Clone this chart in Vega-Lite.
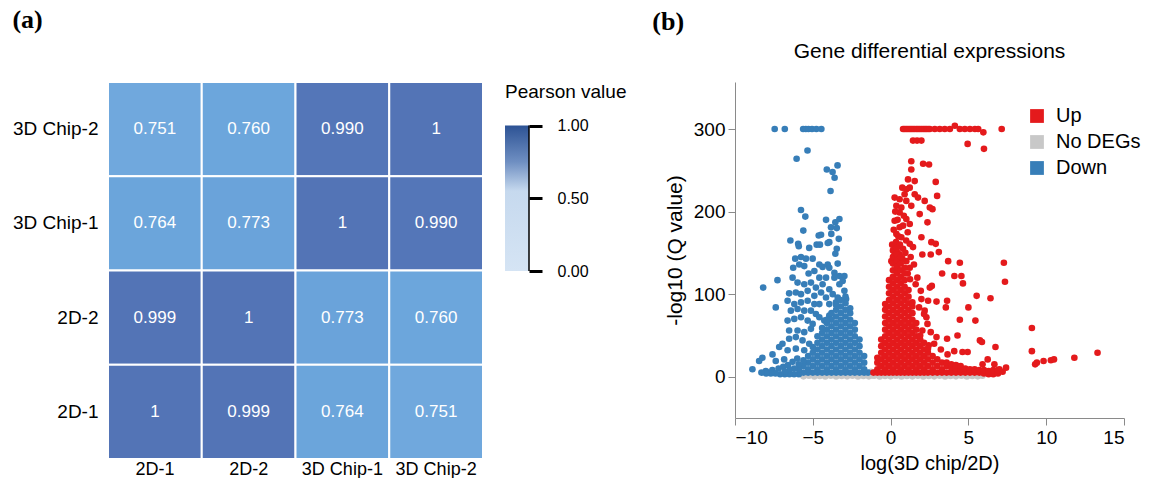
{
"$schema": "https://vega.github.io/schema/vega-lite/v6.json",
"background": "white",
"padding": {"left": 12, "top": 7, "right": 0, "bottom": 0},
"spacing": 25,
"config": {
  "font": "Liberation Sans",
  "view": {"stroke": null},
  "axis": {"grid": false, "labelColor": "black", "titleColor": "black", "labelFont": "Liberation Sans", "titleFont": "Liberation Sans", "titleFontWeight": "normal"},
  "title": {"color": "black", "font": "Liberation Sans", "fontWeight": "normal"}
},
"datasets": {
"heat": [
{"col":"2D-1","row":"3D Chip-2","v":0.751,"lab":"0.751"},
{"col":"2D-2","row":"3D Chip-2","v":0.760,"lab":"0.760"},
{"col":"3D Chip-1","row":"3D Chip-2","v":0.990,"lab":"0.990"},
{"col":"3D Chip-2","row":"3D Chip-2","v":1,"lab":"1"},
{"col":"2D-1","row":"3D Chip-1","v":0.764,"lab":"0.764"},
{"col":"2D-2","row":"3D Chip-1","v":0.773,"lab":"0.773"},
{"col":"3D Chip-1","row":"3D Chip-1","v":1,"lab":"1"},
{"col":"3D Chip-2","row":"3D Chip-1","v":0.990,"lab":"0.990"},
{"col":"2D-1","row":"2D-2","v":0.999,"lab":"0.999"},
{"col":"2D-2","row":"2D-2","v":1,"lab":"1"},
{"col":"3D Chip-1","row":"2D-2","v":0.773,"lab":"0.773"},
{"col":"3D Chip-2","row":"2D-2","v":0.760,"lab":"0.760"},
{"col":"2D-1","row":"2D-1","v":1,"lab":"1"},
{"col":"2D-2","row":"2D-1","v":0.999,"lab":"0.999"},
{"col":"3D Chip-1","row":"2D-1","v":0.764,"lab":"0.764"},
{"col":"3D Chip-2","row":"2D-1","v":0.751,"lab":"0.751"}
],
"gray": [
{"x":-5.6,"y":0.5},{"x":-5.25,"y":1.2},{"x":-4.9,"y":0.3},{"x":-4.55,"y":1.0},{"x":-4.2,"y":0.4},{"x":-3.85,"y":1.2},{"x":-3.5,"y":0.3},{"x":-3.15,"y":1.0},{"x":-2.8,"y":0.5},{"x":-2.45,"y":1.2},{"x":-2.1,"y":0.3},{"x":-1.75,"y":1.0},{"x":-1.4,"y":0.5},{"x":-1.05,"y":1.2},{"x":-0.7,"y":0.3},{"x":-0.35,"y":1.0},{"x":0,"y":0.5},{"x":0.35,"y":1.2},{"x":0.7,"y":0.3},{"x":1.05,"y":1.0},{"x":1.4,"y":0.5},{"x":1.75,"y":1.2},{"x":2.1,"y":0.3},{"x":2.45,"y":1.0},{"x":2.8,"y":0.5},{"x":3.15,"y":1.2},{"x":3.5,"y":0.3},{"x":3.85,"y":1.0},{"x":4.2,"y":0.5},{"x":4.55,"y":1.2},{"x":4.9,"y":0.3},{"x":5.25,"y":1.0},{"x":5.6,"y":0.5},{"x":5.9,"y":1.2},{"x":-1.3,"y":3},{"x":-1.25,"y":6},{"x":-1.2,"y":1.5}
],
"down": [
{"x":-7.45,"y":300},{"x":-6.8,"y":300},{"x":-5.62,"y":300},{"x":-5.45,"y":300},{"x":-5.28,"y":300},{"x":-5.05,"y":300},{"x":-4.77,"y":300},{"x":-4.45,"y":300},
{"x":-6.04,"y":264},{"x":-5.34,"y":274},{"x":-4.1,"y":251},{"x":-3.73,"y":248},{"x":-3.41,"y":256},{"x":-3.6,"y":241},{"x":-3.86,"y":225},
{"x":-5.76,"y":202},{"x":-5.48,"y":194},{"x":-5.61,"y":177},{"x":-6.44,"y":165},{"x":-5.94,"y":161},{"x":-5.9,"y":158},
{"x":-4.15,"y":190},{"x":-3.83,"y":181},{"x":-3.55,"y":187},{"x":-3.29,"y":191},{"x":-3.46,"y":180},{"x":-3.81,"y":173},{"x":-4.47,"y":172},{"x":-4.62,"y":171},{"x":-3.94,"y":163},{"x":-3.33,"y":167},{"x":-3.46,"y":155},{"x":-3.55,"y":149},{"x":-3.4,"y":137},{"x":-5.23,"y":156},{"x":-4.75,"y":160},{"x":-4.54,"y":160},{"x":-4.04,"y":162},
{"x":-6.13,"y":143},{"x":-5.76,"y":145},{"x":-5.44,"y":143},{"x":-5.01,"y":143},{"x":-6.26,"y":132},{"x":-5.87,"y":136},{"x":-5.55,"y":134},{"x":-5.27,"y":125},{"x":-4.9,"y":128},{"x":-4.58,"y":136},{"x":-4.37,"y":133},{"x":-4.04,"y":136},{"x":-3.94,"y":132},{"x":-3.61,"y":126},{"x":-3.29,"y":122},{"x":-2.97,"y":122},{"x":-3.61,"y":120},{"x":-4.15,"y":120},{"x":-4.58,"y":120},{"x":-5.12,"y":114},{"x":-5.55,"y":112},{"x":-5.98,"y":114},{"x":-6.3,"y":120},{"x":-4.8,"y":108},{"x":-4.37,"y":112},{"x":-3.94,"y":106},{"x":-3.29,"y":112},{"x":-3.08,"y":116},{"x":-7.27,"y":117},{"x":-8.19,"y":108},{"x":-6.52,"y":101},{"x":-6.09,"y":102},{"x":-5.76,"y":100},{"x":-5.33,"y":104},{"x":-4.9,"y":98},{"x":-4.47,"y":102},{"x":-4.15,"y":96},{"x":-3.72,"y":100},{"x":-3.4,"y":96},{"x":-2.97,"y":104},{"x":-7.38,"y":84},{"x":-6.62,"y":92},{"x":-6.19,"y":88},{"x":-5.76,"y":90},{"x":-5.33,"y":92},{"x":-4.9,"y":88},{"x":-4.58,"y":88},{"x":-3.94,"y":88},{"x":-3.51,"y":90},{"x":-2.86,"y":94},{"x":-6.41,"y":80},{"x":-5.98,"y":82},{"x":-5.55,"y":80},{"x":-5.12,"y":80},{"x":-4.8,"y":76},{"x":-6.62,"y":68},{"x":-6.19,"y":70},{"x":-5.76,"y":72},{"x":-5.33,"y":68},{"x":-5.01,"y":64},{"x":-4.58,"y":72},{"x":-4.26,"y":68},{"x":-3.94,"y":74},{"x":-6.52,"y":56},{"x":-5.98,"y":56},{"x":-5.55,"y":54},{"x":-5.12,"y":58},{"x":-6.52,"y":46},{"x":-6.09,"y":48},{"x":-5.66,"y":44},{"x":-5.23,"y":40},{"x":-6.95,"y":40},{"x":-7.16,"y":36},{"x":-6.62,"y":32},{"x":-6.09,"y":34},{"x":-5.55,"y":32},{"x":-7.59,"y":27},{"x":-7.38,"y":19},{"x":-6.84,"y":21},{"x":-8.24,"y":23},{"x":-8.45,"y":19},{"x":-8.88,"y":9},{"x":-8.02,"y":7},
{"x":-7.9,"y":5},{"x":-7.6,"y":8},{"x":-7.2,"y":10},{"x":-6.9,"y":12},{"x":-6.6,"y":14},{"x":-6.3,"y":18},{"x":-6.0,"y":22},
{"x":-1.45,"y":5},
{"x":-1.7,"y":5},{"x":-1.7,"y":9},{"x":-1.7,"y":17},{"x":-1.7,"y":25},
{"x":-2.0,"y":5},{"x":-2.0,"y":13},{"x":-2.0,"y":21},{"x":-2.0,"y":29},{"x":-2.0,"y":37},{"x":-2.0,"y":45},
{"x":-2.3,"y":5},{"x":-2.3,"y":9},{"x":-2.3,"y":17},{"x":-2.3,"y":25},{"x":-2.3,"y":33},{"x":-2.3,"y":41},{"x":-2.3,"y":49},{"x":-2.3,"y":57},{"x":-2.3,"y":65},
{"x":-2.6,"y":5},{"x":-2.6,"y":13},{"x":-2.6,"y":21},{"x":-2.6,"y":29},{"x":-2.6,"y":37},{"x":-2.6,"y":45},{"x":-2.6,"y":53},{"x":-2.6,"y":61},{"x":-2.6,"y":69},{"x":-2.6,"y":77},{"x":-2.6,"y":83},
{"x":-2.9,"y":5},{"x":-2.9,"y":9},{"x":-2.9,"y":17},{"x":-2.9,"y":25},{"x":-2.9,"y":33},{"x":-2.9,"y":41},{"x":-2.9,"y":49},{"x":-2.9,"y":57},{"x":-2.9,"y":65},{"x":-2.9,"y":73},{"x":-2.9,"y":81},{"x":-2.9,"y":89},{"x":-2.9,"y":97},
{"x":-3.2,"y":5},{"x":-3.2,"y":13},{"x":-3.2,"y":21},{"x":-3.2,"y":29},{"x":-3.2,"y":37},{"x":-3.2,"y":45},{"x":-3.2,"y":53},{"x":-3.2,"y":61},{"x":-3.2,"y":69},{"x":-3.2,"y":77},{"x":-3.2,"y":85},{"x":-3.2,"y":93},
{"x":-3.5,"y":5},{"x":-3.5,"y":9},{"x":-3.5,"y":17},{"x":-3.5,"y":25},{"x":-3.5,"y":33},{"x":-3.5,"y":41},{"x":-3.5,"y":49},{"x":-3.5,"y":57},{"x":-3.5,"y":65},{"x":-3.5,"y":73},{"x":-3.5,"y":81},{"x":-3.5,"y":87},
{"x":-3.8,"y":5},{"x":-3.8,"y":13},{"x":-3.8,"y":21},{"x":-3.8,"y":29},{"x":-3.8,"y":37},{"x":-3.8,"y":45},{"x":-3.8,"y":53},{"x":-3.8,"y":61},{"x":-3.8,"y":69},{"x":-3.8,"y":77},
{"x":-4.1,"y":5},{"x":-4.1,"y":9},{"x":-4.1,"y":17},{"x":-4.1,"y":25},{"x":-4.1,"y":33},{"x":-4.1,"y":41},{"x":-4.1,"y":49},{"x":-4.1,"y":57},{"x":-4.1,"y":65},{"x":-4.1,"y":69},
{"x":-4.4,"y":5},{"x":-4.4,"y":13},{"x":-4.4,"y":21},{"x":-4.4,"y":29},{"x":-4.4,"y":37},{"x":-4.4,"y":45},{"x":-4.4,"y":53},{"x":-4.4,"y":59},
{"x":-4.7,"y":5},{"x":-4.7,"y":9},{"x":-4.7,"y":17},{"x":-4.7,"y":25},{"x":-4.7,"y":33},{"x":-4.7,"y":41},{"x":-4.7,"y":49},
{"x":-5.0,"y":5},{"x":-5.0,"y":13},{"x":-5.0,"y":21},{"x":-5.0,"y":29},{"x":-5.0,"y":36},
{"x":-5.3,"y":5},{"x":-5.3,"y":9},{"x":-5.3,"y":17},{"x":-5.3,"y":25},
{"x":-5.6,"y":5},{"x":-5.6,"y":13},{"x":-5.6,"y":20},
{"x":-5.9,"y":3},{"x":-5.9,"y":9},{"x":-5.9,"y":15},
{"x":-6.2,"y":3},{"x":-6.2,"y":10},{"x":-6.5,"y":3},{"x":-6.5,"y":8},{"x":-6.8,"y":3},{"x":-6.8,"y":6},{"x":-7.1,"y":3},{"x":-7.4,"y":4},{"x":-7.7,"y":4},{"x":-8.0,"y":4},{"x":-8.3,"y":5}
],
"up": [
{"x":0.8,"y":300},{"x":0.9,"y":300},{"x":1.01,"y":300},{"x":1.12,"y":300},{"x":1.23,"y":300},{"x":1.33,"y":300},{"x":1.44,"y":300},{"x":1.55,"y":300},{"x":1.66,"y":300},{"x":1.76,"y":300},{"x":1.87,"y":300},{"x":1.98,"y":300},{"x":2.09,"y":300},{"x":2.2,"y":300},{"x":2.3,"y":300},{"x":2.41,"y":300},{"x":2.52,"y":300},
{"x":2.84,"y":300},{"x":3.16,"y":300},{"x":3.48,"y":300},{"x":3.81,"y":300},{"x":4.13,"y":304},{"x":4.45,"y":300},{"x":4.77,"y":300},{"x":5.1,"y":300},{"x":5.42,"y":300},{"x":5.63,"y":300},{"x":5.96,"y":296},{"x":7.14,"y":300},
{"x":1.44,"y":286},{"x":1.7,"y":286},{"x":1.98,"y":286},{"x":4.95,"y":282},{"x":6.0,"y":276},
{"x":1.33,"y":261},{"x":2.09,"y":258},{"x":2.47,"y":257},{"x":1.33,"y":251},{"x":1.12,"y":239},{"x":1.55,"y":237},{"x":2.9,"y":236},{"x":0.75,"y":229},{"x":1.01,"y":227},{"x":1.23,"y":229},{"x":0.9,"y":221},{"x":1.55,"y":221},{"x":2.99,"y":219},{"x":0.26,"y":217},{"x":0.58,"y":215},{"x":1.01,"y":213},{"x":1.76,"y":217},{"x":2.19,"y":213},{"x":0.37,"y":207},{"x":0.69,"y":205},{"x":1.33,"y":207},{"x":2.52,"y":205},{"x":2.69,"y":203},{"x":0.58,"y":199},{"x":1.87,"y":197},{"x":0.26,"y":189},{"x":1.01,"y":191},{"x":1.23,"y":185},{"x":0.8,"y":183},{"x":2.37,"y":187},{"x":0.58,"y":181},{"x":0.37,"y":173},{"x":0.69,"y":169},{"x":1.98,"y":169},{"x":1.23,"y":161},{"x":2.62,"y":163},{"x":2.9,"y":161},{"x":0.15,"y":153},{"x":0.8,"y":155},{"x":1.44,"y":157},{"x":0.58,"y":148},{"x":2.04,"y":148},{"x":2.58,"y":148},{"x":3.1,"y":151},{"x":1.01,"y":140},{"x":0.26,"y":138},{"x":3.7,"y":140},{"x":4.45,"y":138},{"x":7.28,"y":138},{"x":0.37,"y":128},{"x":1.23,"y":132},{"x":3.31,"y":125},{"x":4.1,"y":122},{"x":4.55,"y":122},{"x":7.35,"y":115},{"x":4.65,"y":113},{"x":2.52,"y":108},{"x":2.65,"y":110},{"x":1.98,"y":94},{"x":2.41,"y":92},{"x":2.95,"y":91},{"x":3.63,"y":92},{"x":3.55,"y":84},{"x":5.53,"y":98},{"x":6.42,"y":95},{"x":2.19,"y":80},{"x":5.0,"y":84},{"x":4.45,"y":69},{"x":5.45,"y":68},{"x":2.3,"y":72},{"x":2.95,"y":48},{"x":3.63,"y":46},{"x":4.3,"y":50},{"x":5.74,"y":44},{"x":5.87,"y":42},{"x":6.74,"y":36},{"x":4.62,"y":30},{"x":4.95,"y":30},{"x":6.24,"y":21},{"x":6.67,"y":15},{"x":7.42,"y":11},{"x":6.99,"y":9},{"x":5.91,"y":15},{"x":9.08,"y":59},{"x":9.08,"y":31},{"x":9.29,"y":15},{"x":9.4,"y":17},{"x":9.83,"y":19},{"x":10.3,"y":20},{"x":10.5,"y":21},{"x":11.81,"y":23},{"x":13.3,"y":29},
{"x":1.29,"y":145},{"x":1.5,"y":136},{"x":1.72,"y":120},{"x":1.61,"y":112},{"x":1.94,"y":104},{"x":1.83,"y":84},{"x":2.15,"y":76},{"x":2.37,"y":64},{"x":2.58,"y":54},{"x":2.04,"y":56},{"x":2.8,"y":40},{"x":3.23,"y":33},{"x":3.66,"y":27},{"x":4.09,"y":31},{"x":2.45,"y":38},
{"x":0.05,"y":140},{"x":0.2,"y":146},{"x":0.45,"y":150},{"x":0.5,"y":141},{"x":0.75,"y":143},{"x":0.95,"y":150},{"x":1.1,"y":125},{"x":1.25,"y":118},{"x":0.1,"y":160},{"x":0.35,"y":163},{"x":0.5,"y":170},{"x":0.2,"y":178},{"x":0.6,"y":160},{"x":1.0,"y":165},{"x":1.1,"y":175},{"x":0.85,"y":195},{"x":0.45,"y":190},{"x":0.3,"y":200},
{"x":-1.1,"y":5},
{"x":-0.85,"y":5},{"x":-0.85,"y":9},{"x":-0.85,"y":17},{"x":-0.85,"y":23},
{"x":-0.6,"y":5},{"x":-0.6,"y":13},{"x":-0.6,"y":21},{"x":-0.6,"y":29},{"x":-0.6,"y":37},{"x":-0.6,"y":45},
{"x":-0.35,"y":5},{"x":-0.35,"y":9},{"x":-0.35,"y":17},{"x":-0.35,"y":25},{"x":-0.35,"y":33},{"x":-0.35,"y":41},{"x":-0.35,"y":49},{"x":-0.35,"y":57},{"x":-0.35,"y":65},{"x":-0.35,"y":73},{"x":-0.35,"y":81},{"x":-0.35,"y":88},
{"x":-0.1,"y":5},{"x":-0.1,"y":13},{"x":-0.1,"y":21},{"x":-0.1,"y":29},{"x":-0.1,"y":37},{"x":-0.1,"y":45},{"x":-0.1,"y":53},{"x":-0.1,"y":61},{"x":-0.1,"y":69},{"x":-0.1,"y":77},{"x":-0.1,"y":85},{"x":-0.1,"y":93},{"x":-0.1,"y":101},{"x":-0.1,"y":109},{"x":-0.1,"y":117},
{"x":0.15,"y":5},{"x":0.15,"y":9},{"x":0.15,"y":17},{"x":0.15,"y":25},{"x":0.15,"y":33},{"x":0.15,"y":41},{"x":0.15,"y":49},{"x":0.15,"y":57},{"x":0.15,"y":65},{"x":0.15,"y":73},{"x":0.15,"y":81},{"x":0.15,"y":89},{"x":0.15,"y":97},{"x":0.15,"y":105},{"x":0.15,"y":113},{"x":0.15,"y":121},{"x":0.15,"y":129},{"x":0.15,"y":137},{"x":0.15,"y":145},
{"x":0.4,"y":5},{"x":0.4,"y":13},{"x":0.4,"y":21},{"x":0.4,"y":29},{"x":0.4,"y":37},{"x":0.4,"y":45},{"x":0.4,"y":53},{"x":0.4,"y":61},{"x":0.4,"y":69},{"x":0.4,"y":77},{"x":0.4,"y":85},{"x":0.4,"y":93},{"x":0.4,"y":101},{"x":0.4,"y":109},{"x":0.4,"y":117},{"x":0.4,"y":125},{"x":0.4,"y":133},{"x":0.4,"y":141},{"x":0.4,"y":149},{"x":0.4,"y":156},
{"x":0.65,"y":5},{"x":0.65,"y":9},{"x":0.65,"y":17},{"x":0.65,"y":25},{"x":0.65,"y":33},{"x":0.65,"y":41},{"x":0.65,"y":49},{"x":0.65,"y":57},{"x":0.65,"y":65},{"x":0.65,"y":73},{"x":0.65,"y":81},{"x":0.65,"y":89},{"x":0.65,"y":97},{"x":0.65,"y":105},{"x":0.65,"y":113},{"x":0.65,"y":121},{"x":0.65,"y":129},{"x":0.65,"y":137},{"x":0.65,"y":145},
{"x":0.9,"y":5},{"x":0.9,"y":13},{"x":0.9,"y":21},{"x":0.9,"y":29},{"x":0.9,"y":37},{"x":0.9,"y":45},{"x":0.9,"y":53},{"x":0.9,"y":61},{"x":0.9,"y":69},{"x":0.9,"y":77},{"x":0.9,"y":85},{"x":0.9,"y":93},{"x":0.9,"y":101},{"x":0.9,"y":109},{"x":0.9,"y":117},{"x":0.9,"y":125},{"x":0.9,"y":132},
{"x":1.15,"y":5},{"x":1.15,"y":9},{"x":1.15,"y":17},{"x":1.15,"y":25},{"x":1.15,"y":33},{"x":1.15,"y":41},{"x":1.15,"y":49},{"x":1.15,"y":57},{"x":1.15,"y":65},{"x":1.15,"y":73},{"x":1.15,"y":81},{"x":1.15,"y":89},{"x":1.15,"y":97},{"x":1.15,"y":105},
{"x":1.4,"y":5},{"x":1.4,"y":13},{"x":1.4,"y":21},{"x":1.4,"y":29},{"x":1.4,"y":37},{"x":1.4,"y":45},{"x":1.4,"y":53},{"x":1.4,"y":61},{"x":1.4,"y":69},{"x":1.4,"y":77},{"x":1.4,"y":85},{"x":1.4,"y":90},
{"x":1.65,"y":5},{"x":1.65,"y":9},{"x":1.65,"y":17},{"x":1.65,"y":25},{"x":1.65,"y":33},{"x":1.65,"y":41},{"x":1.65,"y":49},{"x":1.65,"y":57},{"x":1.65,"y":65},
{"x":1.9,"y":5},{"x":1.9,"y":13},{"x":1.9,"y":21},{"x":1.9,"y":29},{"x":1.9,"y":37},{"x":1.9,"y":45},{"x":1.9,"y":50},
{"x":2.15,"y":5},{"x":2.15,"y":9},{"x":2.15,"y":17},{"x":2.15,"y":25},{"x":2.15,"y":33},{"x":2.15,"y":41},
{"x":2.4,"y":5},{"x":2.4,"y":13},{"x":2.4,"y":21},{"x":2.4,"y":29},{"x":2.4,"y":34},
{"x":2.7,"y":5},{"x":2.7,"y":9},{"x":2.7,"y":17},{"x":2.7,"y":25},
{"x":3.0,"y":5},{"x":3.0,"y":13},{"x":3.0,"y":21},
{"x":3.3,"y":5},{"x":3.3,"y":9},{"x":3.3,"y":17},
{"x":3.6,"y":5},{"x":3.6,"y":13},{"x":3.6,"y":17},
{"x":3.9,"y":5},{"x":3.9,"y":11},{"x":3.9,"y":15},
{"x":4.2,"y":5},{"x":4.2,"y":10},{"x":4.2,"y":14},
{"x":4.5,"y":5},{"x":4.5,"y":9},{"x":4.5,"y":13},
{"x":4.8,"y":5},{"x":4.8,"y":10},{"x":5.1,"y":5},{"x":5.1,"y":9},{"x":5.4,"y":5},{"x":5.4,"y":9},{"x":5.7,"y":5},{"x":5.7,"y":8},{"x":6.0,"y":4},{"x":6.0,"y":8},{"x":6.3,"y":3},{"x":6.3,"y":7},{"x":6.6,"y":3},{"x":6.6,"y":8},{"x":6.9,"y":4},{"x":6.9,"y":8},{"x":7.2,"y":6}
]
},
"hconcat": [
{
  "title": {"text": "(a)", "anchor": "start", "font": "Liberation Serif", "fontSize": 26, "fontWeight": "bold", "offset": 48},
  "spacing": 21,
  "hconcat": [
  {
    "width": 375, "height": 377,
    "data": {"name": "heat"},
    "encoding": {
      "x": {"field": "col", "type": "nominal", "sort": ["2D-1","2D-2","3D Chip-1","3D Chip-2"], "scale": {"paddingInner": 0, "paddingOuter": 0},
            "axis": {"orient": "bottom", "title": null, "labelAngle": 0, "ticks": false, "domain": false, "labelFontSize": 18, "labelPadding": 1}},
      "y": {"field": "row", "type": "nominal", "sort": ["3D Chip-2","3D Chip-1","2D-2","2D-1"], "scale": {"paddingInner": 0, "paddingOuter": 0},
            "axis": {"title": null, "ticks": false, "domain": false, "labelFontSize": 19, "labelPadding": 10}}
    },
    "layer": [
      {"mark": {"type": "rect", "stroke": "white", "strokeWidth": 2},
       "encoding": {"color": {"field": "v", "type": "quantitative", "scale": {"domain": [0, 0.5, 0.76, 1], "range": ["#d6e5f4", "#cddff1", "#6ca6dc", "#5374b6"]}, "legend": null}}},
      {"mark": {"type": "text", "color": "white", "fontSize": 17},
       "encoding": {"text": {"field": "lab", "type": "nominal"}}}
    ]
  },
  {
    "width": 24, "height": 189,
    "data": {"values": [{"lo": 0, "hi": 1, "name": "Pearson value"}]},
    "encoding": {
      "y": {"field": "lo", "type": "quantitative", "scale": {"domain": [0, 1.3], "nice": false},
            "axis": {"orient": "right", "title": null, "values": [0, 0.5, 1], "format": ".2f", "tickSize": 13, "tickWidth": 3, "tickColor": "black", "domain": false, "labelPadding": 15, "labelFontSize": 16}}
    },
    "layer": [
      {"mark": {"type": "rect", "color": {"gradient": "linear", "x1": 0, "y1": 0, "x2": 0, "y2": 1, "stops": [{"offset": 0, "color": "#2d5395"}, {"offset": 0.25, "color": "#6f8fc2"}, {"offset": 0.45, "color": "#c6d9ee"}, {"offset": 1, "color": "#d5e4f4"}]}},
       "encoding": {"x": {"datum": 0, "type": "quantitative", "scale": {"domain": [0, 1], "nice": false}, "axis": null}, "x2": {"datum": 1}, "y2": {"field": "hi"}}},
      {"mark": {"type": "rule", "color": "black", "strokeWidth": 1.5},
       "encoding": {"x": {"datum": 1, "type": "quantitative"}, "y2": {"field": "hi"}}},
      {"mark": {"type": "text", "align": "left", "baseline": "middle", "fontSize": 19, "color": "black"},
       "encoding": {"text": {"field": "name", "type": "nominal"}, "x": {"datum": 0, "type": "quantitative"}, "y": {"datum": 1.23, "type": "quantitative"}}}
    ]
  }
  ]
},
{
  "title": {"text": "(b)", "anchor": "start", "font": "Liberation Serif", "fontSize": 26, "fontWeight": "bold", "offset": 6, "dx": -12},
  "vconcat": [
  {
    "title": {"text": "Gene differential expressions", "fontSize": 21, "offset": 20},
    "width": 389, "height": 336,
    "encoding": {
      "x": {"field": "x", "type": "quantitative", "scale": {"domain": [-10, 15], "nice": false},
            "axis": {"title": "log(3D chip/2D)", "values": [-10, -5, 0, 5, 10, 15], "tickSize": 7, "tickColor": "#8a8a8a", "domainColor": "#8a8a8a", "labelFontSize": 19, "labelPadding": 3, "titleFontSize": 20, "titlePadding": 6}},
      "y": {"field": "y", "type": "quantitative", "scale": {"domain": [-50, 357], "nice": false},
            "axis": {"title": "-log10 (Q value)", "values": [0, 100, 200, 300], "tickSize": 7, "tickColor": "#8a8a8a", "domainColor": "#8a8a8a", "labelFontSize": 19, "labelPadding": 3, "titleFontSize": 21, "titlePadding": 8}}
    },
    "layer": [
      {"data": {"name": "gray"}, "mark": {"type": "circle", "size": 44, "opacity": 1},
       "encoding": {"color": {"datum": "No DEGs", "type": "nominal",
         "scale": {"domain": ["Up", "No DEGs", "Down"], "range": ["#e41a1c", "#c8c8c8", "#377eb8"]},
         "legend": {"title": null, "orient": "none", "legendX": 292, "legendY": 24, "symbolType": "square", "symbolSize": 190, "symbolStrokeWidth": 0, "labelFontSize": 20, "rowPadding": 6, "labelOffset": 9, "labelColor": "black"}}}},
      {"data": {"name": "down"}, "mark": {"type": "circle", "size": 44, "opacity": 1},
       "encoding": {"color": {"datum": "Down", "type": "nominal"}}},
      {"data": {"name": "up"}, "mark": {"type": "circle", "size": 44, "opacity": 1},
       "encoding": {"color": {"datum": "Up", "type": "nominal"}}}
    ]
  }
  ]
}
]
}
